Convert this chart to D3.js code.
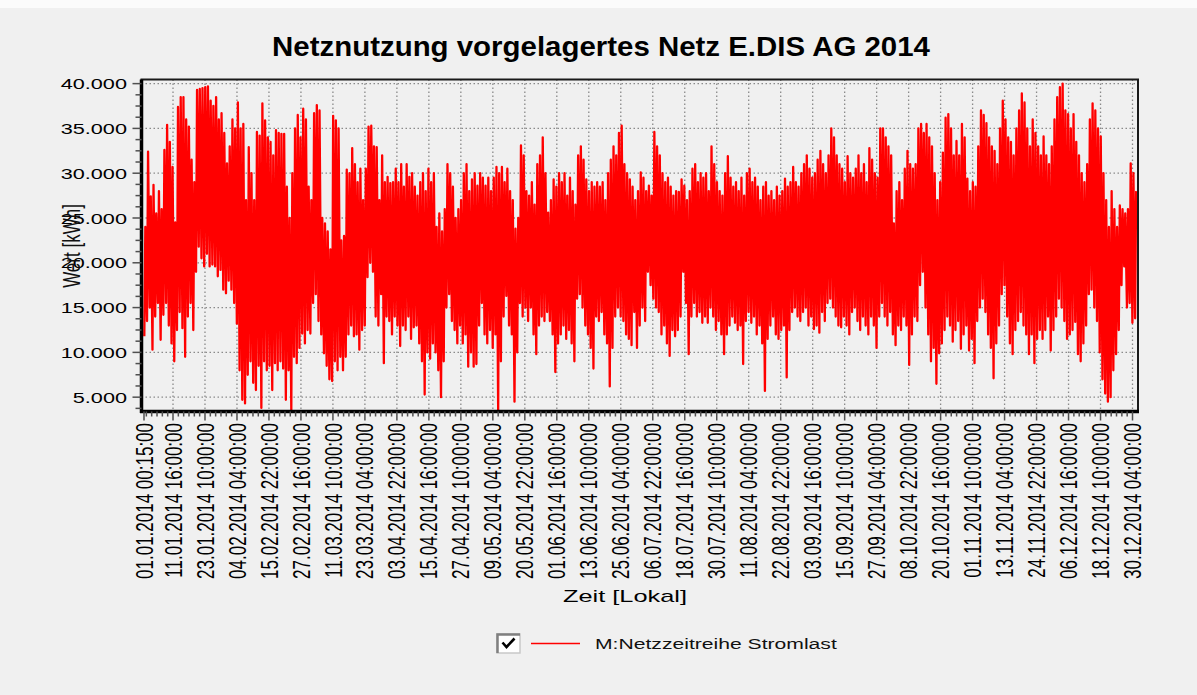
<!DOCTYPE html>
<html>
<head>
<meta charset="utf-8">
<script src="https://cdn.jsdelivr.net/npm/d3@7"></script>
<style>
  body { margin: 0; background: #f0f0f0; }
  svg { display: block; font-family: Arial, "Liberation Sans", sans-serif; }
</style>
</head>
<body>
<svg id="chart" width="1197" height="695"></svg>
<script>
'use strict';

// daily load, in 1000 kWh (one high and one low per day, 01.01.2014 .. 31.12.2014)
const dailyHighs = [
  24.0, 32.4, 27.4, 28.7, 25.5, 28.0, 26.0, 32.6, 35.4, 33.5,
  30.7, 24.5, 37.4, 38.5, 38.5, 36.0, 35.2, 31.5, 29.0, 39.3,
  39.4, 39.5, 39.6, 39.7, 38.1, 37.5, 38.5, 36.0, 36.7, 34.5,
  31.1, 33.0, 36.0, 35.0, 37.9, 35.0, 35.5, 27.0, 32.9, 30.0,
  27.0, 34.6, 34.2, 37.8, 35.9, 34.0, 33.5, 32.0, 34.8, 34.5,
  34.4, 34.4, 28.5, 25.0, 30.0, 35.0, 36.5, 34.0, 37.2, 36.0,
  28.5, 27.0, 36.7, 37.6, 37.0, 25.0, 24.4, 23.5, 21.5, 36.4,
  35.9, 35.0, 22.5, 23.0, 30.4, 30.0, 32.8, 31.0, 29.0, 30.5,
  27.0, 30.5, 35.2, 35.3, 33.0, 32.9, 27.0, 32.0, 29.0, 29.6,
  28.9, 29.0, 30.5, 29.0, 31.0, 28.5, 31.0, 29.6, 30.0, 28.5,
  27.5, 29.0, 30.0, 28.0, 30.5, 29.0, 30.0, 24.0, 25.5, 23.5,
  26.0, 31.0, 30.0, 28.5, 25.0, 26.0, 27.0, 30.0, 31.0, 28.0,
  29.3, 30.0, 28.6, 30.0, 29.5, 28.6, 29.5, 28.0, 29.5, 30.7,
  30.0, 30.7, 29.0, 30.5, 28.0, 27.0, 23.8, 25.0, 33.1, 32.0,
  28.0, 27.5, 29.0, 26.5, 31.0, 32.0, 34.0, 30.0, 25.6, 27.0,
  29.3, 28.5, 30.0, 29.0, 30.0, 27.5, 29.5, 28.0, 26.5, 32.0,
  33.0, 31.5, 29.3, 28.0, 29.0, 28.5, 29.0, 28.5, 29.0, 27.0,
  30.0, 31.5, 33.0, 32.0, 34.5, 35.3, 31.0, 30.0, 29.3, 28.5,
  27.0, 28.0, 30.1, 29.5, 28.0, 28.6, 27.5, 34.6, 33.0, 32.0,
  30.0, 29.0, 29.5, 28.5, 27.5, 28.0, 27.9, 29.3, 28.6, 27.0,
  28.0, 30.5, 31.0, 29.0, 30.0, 29.5, 30.0, 28.0, 33.0, 31.0,
  29.0, 28.0, 27.5, 30.0, 31.9, 29.5, 28.5, 29.0, 28.0, 29.5,
  27.5, 30.0, 30.5, 29.0, 29.5, 28.5, 27.0, 28.5, 29.0, 27.5,
  28.0, 27.0, 28.5, 27.5, 28.0, 29.4, 28.5, 29.0, 30.7, 29.0,
  28.5, 30.0, 31.0, 32.0, 30.5, 29.5, 30.0, 31.5, 32.5, 31.0,
  30.0, 32.0, 35.0, 34.0, 32.0, 31.0, 30.5, 29.0, 31.9, 30.0,
  29.5, 30.5, 32.0, 30.0, 31.0, 29.0, 32.8, 31.5, 30.0, 29.5,
  35.0, 35.0, 34.0, 33.0, 32.0, 24.4, 28.0, 29.0, 27.0, 30.5,
  32.5, 31.0, 30.5, 31.0, 35.0, 35.5, 34.5, 35.5, 34.0, 33.0,
  30.0, 27.0, 29.0, 32.3, 36.2, 36.6, 35.0, 32.0, 33.6, 32.0,
  35.5, 34.0, 29.4, 28.0, 29.0, 28.5, 33.0, 37.0, 36.5, 35.6,
  34.0, 33.0, 32.5, 31.0, 35.0, 38.1, 36.0, 34.0, 33.5, 32.0,
  35.0, 37.0, 38.9, 37.9, 35.0, 33.0, 36.0, 34.5, 33.0, 32.0,
  34.1, 32.0, 31.0, 33.0, 36.0, 38.5, 39.6, 40.0, 37.0, 36.6,
  35.0, 36.6, 33.5, 32.0, 30.0, 29.0, 31.0, 36.0, 37.8, 37.0,
  35.0, 34.1, 30.0, 27.0, 24.0, 28.0, 26.0, 24.0, 26.4, 26.0,
  25.5, 26.0, 31.1, 30.0, 28.0
];

const dailyLows = [
  11.8, 13.5, 15.0, 10.3, 14.0, 15.5, 11.4, 14.2, 15.5, 13.0,
  11.0, 9.0, 12.5, 14.5, 12.7, 9.5, 14.0, 15.5, 12.5, 19.0,
  21.8, 20.5, 19.6, 21.0, 19.6, 19.8, 19.6, 18.5, 19.2, 17.0,
  16.6, 18.0, 17.0, 15.5, 13.2, 8.0, 4.7, 4.3, 7.5, 9.0,
  6.6, 5.8, 8.5, 3.8, 9.0, 8.0, 8.5, 5.8, 8.8, 8.0,
  9.0, 8.2, 4.7, 8.0, 3.6, 9.5, 8.8, 10.5, 12.1, 11.0,
  12.5, 12.1, 15.5, 16.5, 13.5, 12.0, 9.9, 8.5, 7.0, 6.8,
  9.0, 8.0, 9.5, 8.0, 9.5, 12.0, 13.0, 11.8, 12.0, 10.3,
  12.5, 13.0, 18.4, 20.0, 19.0, 14.0, 13.0, 16.5, 8.8, 14.0,
  13.5, 12.0, 14.0, 13.0, 10.7, 13.0, 12.5, 14.0, 11.5, 12.8,
  13.0, 11.0, 9.0, 5.3, 10.0, 9.3, 11.0, 10.0, 8.0, 5.0,
  9.0, 15.0, 16.5, 13.5, 12.5, 11.0, 13.0, 11.0, 12.0, 8.4,
  10.0, 8.4, 8.7, 13.0, 15.5, 12.0, 11.0, 12.5, 10.5, 12.0,
  3.6, 9.0, 14.0, 16.3, 13.0, 12.0, 4.5, 10.0, 15.5, 14.0,
  15.0, 13.5, 15.0, 12.0, 9.8, 13.0, 14.0, 13.5, 14.5, 13.5,
  12.0, 7.8, 11.0, 12.0, 13.0, 11.5, 12.5, 11.0, 9.0, 16.0,
  16.5, 15.0, 13.0, 12.0, 10.5, 8.2, 14.0, 13.5, 14.5, 12.0,
  11.0, 6.2, 10.5, 14.0, 15.0, 14.0, 13.5, 12.0, 11.5, 10.8,
  14.5, 10.5, 13.0, 15.0, 13.5, 19.0, 17.5, 16.0, 15.0, 14.5,
  12.0, 13.0, 11.0, 9.6, 12.5, 11.8, 12.5, 14.0, 19.0, 15.5,
  9.8, 14.0, 15.5, 14.0, 14.5, 13.3, 14.0, 13.3, 15.0, 14.0,
  12.5, 13.5, 12.0, 9.8, 12.0, 13.0, 14.0, 13.3, 12.5, 13.0,
  8.7, 13.5, 14.5, 13.3, 14.0, 12.0, 13.0, 11.0, 5.7, 11.5,
  13.0, 14.0, 12.0, 11.5, 12.5, 13.0, 7.2, 12.5, 14.5, 15.0,
  14.0, 13.5, 14.5, 15.0, 13.0, 14.0, 12.6, 13.0, 12.2, 14.5,
  13.5, 15.5, 16.0, 15.0, 14.0, 13.0, 12.8, 14.0, 13.0, 12.0,
  14.5, 15.0, 13.5, 12.5, 14.0, 13.0, 12.0, 14.0, 13.0, 10.5,
  14.0, 15.5, 14.0, 13.0, 14.5, 12.0, 10.8, 13.0, 12.5, 14.0,
  13.0, 8.6, 12.0, 14.0, 13.5, 17.5, 19.0, 15.0, 12.0, 9.0,
  10.5, 6.5, 9.9, 11.0, 12.5, 14.0, 13.0, 11.2, 12.5, 13.5,
  10.4, 12.0, 13.0, 10.2, 11.5, 8.8, 13.5, 15.0, 16.0, 14.5,
  12.0, 10.5, 7.1, 11.0, 13.0, 16.5, 17.5, 14.0, 11.0, 9.8,
  12.5, 13.5, 14.5, 13.0, 12.0, 9.8, 12.0, 8.8, 11.5, 12.5,
  11.5, 12.5, 14.0, 10.2, 12.5, 14.0, 16.0, 15.0, 13.5, 11.5,
  12.0, 12.5, 13.4, 9.8, 9.0, 11.0, 13.0, 16.5, 17.0, 15.0,
  13.5, 10.0, 7.0, 5.4, 4.5, 5.0, 8.0, 9.8, 12.5, 17.5,
  19.6, 15.0, 15.5, 13.3, 13.8
];

const xTickLabels = [
  '01.01.2014 00:15:00', '11.01.2014 16:00:00', '23.01.2014 10:00:00', '04.02.2014 04:00:00',
  '15.02.2014 22:00:00', '27.02.2014 16:00:00', '11.03.2014 10:00:00', '23.03.2014 04:00:00',
  '03.04.2014 22:00:00', '15.04.2014 16:00:00', '27.04.2014 10:00:00', '09.05.2014 04:00:00',
  '20.05.2014 22:00:00', '01.06.2014 16:00:00', '13.06.2014 10:00:00', '25.06.2014 04:00:00',
  '06.07.2014 22:00:00', '18.07.2014 16:00:00', '30.07.2014 10:00:00', '11.08.2014 04:00:00',
  '22.08.2014 22:00:00', '03.09.2014 16:00:00', '15.09.2014 10:00:00', '27.09.2014 04:00:00',
  '08.10.2014 22:00:00', '20.10.2014 16:00:00', '01.11.2014 10:00:00', '13.11.2014 04:00:00',
  '24.11.2014 22:00:00', '06.12.2014 16:00:00', '18.12.2014 10:00:00', '30.12.2014 04:00:00'
];
const yTickValues = [5000, 10000, 15000, 20000, 25000, 30000, 35000, 40000];

const titleText = 'Netznutzung vorgelagertes Netz E.DIS AG 2014';
const xTitle = 'Zeit [Lokal]';
const yTitle = 'Wert [kWh]';
const seriesName = 'M:Netzzeitreihe Stromlast';

const plotLeft = 141.5;
const plotRight = 1138;
const plotTop = 79.5;
const plotBottom = 411.5;
const textStretch = 1.4;

const parseLabel = d3.utcParse('%d.%m.%Y %H:%M:%S');
const deFormat = d3.formatLocale({decimal: ',', thousands: '.', grouping: [3], currency: ['', ' €']}).format(',.0f');

// one low (night) and one high (midday) point per day
let points = [];
dailyHighs.forEach((high, d) => {
  points.push({t: new Date(Date.UTC(2014, 0, 1 + d, 3)), v: dailyLows[d] * 1000});
  points.push({t: new Date(Date.UTC(2014, 0, 1 + d, 12)), v: high * 1000});
});

const x = d3.scaleUtc()
  .domain([parseLabel(xTickLabels[0]), new Date(Date.UTC(2015, 0, 1, 0))])
  .range([144, 1137.5]);
const y = d3.scaleLinear()
  .domain([3400, 40460])
  .range([plotBottom, plotTop]);

const svg = d3.select('#chart');

svg.append('rect').attr('width', 1197).attr('height', 695).attr('fill', '#f0f0f0');
svg.append('rect').attr('width', 1197).attr('height', 8).attr('fill', '#fbfbfb');

// title
const title = svg.append('text')
  .attr('text-anchor', 'middle')
  .attr('font-weight', 'bold')
  .attr('font-size', 28)
  .attr('fill', '#000')
  .text(titleText);
fitWidth(title, 658, 601, 56);

// grid
const majorTimes = xTickLabels.map(parseLabel);
const gGrid = svg.append('g')
  .attr('stroke', '#8a8a8a')
  .attr('stroke-width', 1.3)
  .attr('stroke-dasharray', '1.5,2.5');
gGrid.selectAll('.hGrid').data(yTickValues).enter()
  .append('line')
  .attr('class', 'hGrid')
  .attr('x1', plotLeft).attr('x2', plotRight)
  .attr('y1', d => y(d)).attr('y2', d => y(d));
gGrid.selectAll('.vGrid').data(majorTimes.slice(1)).enter()
  .append('line')
  .attr('class', 'vGrid')
  .attr('x1', d => x(d)).attr('x2', d => x(d))
  .attr('y1', plotTop).attr('y2', plotBottom);

// series
svg.append('clipPath').attr('id', 'plotClip')
  .append('rect')
  .attr('x', plotLeft).attr('y', plotTop)
  .attr('width', plotRight - plotLeft).attr('height', plotBottom - plotTop);

const line = d3.line()
  .x(d => x(d.t))
  .y(d => y(d.v));
svg.append('path')
  .datum(points)
  .attr('clip-path', 'url(#plotClip)')
  .attr('fill', 'none')
  .attr('stroke', '#ff0000')
  .attr('stroke-width', 2.3)
  .attr('stroke-linejoin', 'round')
  .attr('d', line);

// frame
svg.append('rect')
  .attr('x', plotLeft).attr('y', plotTop)
  .attr('width', plotRight - plotLeft).attr('height', plotBottom - plotTop)
  .attr('fill', 'none')
  .attr('stroke', '#1a1a1a')
  .attr('stroke-width', 2);
svg.append('line')
  .attr('x1', plotLeft).attr('x2', plotLeft)
  .attr('y1', plotTop).attr('y2', plotBottom + 1.5)
  .attr('stroke', '#000').attr('stroke-width', 3.5);
svg.append('line')
  .attr('x1', plotLeft - 1.5).attr('x2', plotRight + 1)
  .attr('y1', plotBottom).attr('y2', plotBottom)
  .attr('stroke', '#000').attr('stroke-width', 3.5);

// y axis ticks + labels
const gTicks = svg.append('g').attr('stroke', '#505050').attr('stroke-width', 1.5);
let yMinor = [];
for (let v = 3750; v <= 40000; v += 1250) {
  if (v % 5000 !== 0) yMinor.push(v);
}
gTicks.selectAll('.yMinor').data(yMinor).enter()
  .append('line')
  .attr('x1', plotLeft - 6).attr('x2', plotLeft)
  .attr('y1', d => y(d)).attr('y2', d => y(d));
gTicks.selectAll('.yMajor').data(yTickValues).enter()
  .append('line')
  .attr('x1', plotLeft - 9).attr('x2', plotLeft)
  .attr('y1', d => y(d)).attr('y2', d => y(d));

svg.selectAll('.yLabel').data(yTickValues).enter()
  .append('text')
  .attr('class', 'yLabel')
  .attr('text-anchor', 'end')
  .attr('font-size', 15.5)
  .attr('dy', '0.36em')
  .attr('fill', '#000')
  .attr('transform', d => `translate(127, ${y(d)}) scale(${textStretch}, 1)`)
  .text(d => deFormat(d));

// x axis ticks + labels
const stepMs = 47 * 3600 * 1000;
const anchorMs = majorTimes[1].getTime();
let xMinor = [];
for (let k = -6; k <= 6 * 31; k++) {
  if (k % 6 === 0) continue;
  const t = new Date(anchorMs + k * stepMs);
  if (t >= x.domain()[0] && t <= x.domain()[1]) xMinor.push(t);
}
gTicks.selectAll('.xMinor').data(xMinor).enter()
  .append('line')
  .attr('x1', d => x(d)).attr('x2', d => x(d))
  .attr('y1', plotBottom).attr('y2', plotBottom + 5);
gTicks.selectAll('.xMajor').data(majorTimes).enter()
  .append('line')
  .attr('x1', d => x(d)).attr('x2', d => x(d))
  .attr('y1', plotBottom).attr('y2', plotBottom + 9);

svg.selectAll('.xLabel').data(xTickLabels).enter()
  .append('text')
  .attr('class', 'xLabel')
  .attr('text-anchor', 'end')
  .attr('font-size', 17)
  .attr('dy', '0.36em')
  .attr('fill', '#000')
  .attr('transform', d => `translate(${x(parseLabel(d))}, 423) scale(${textStretch}, 1) rotate(-90)`)
  .text(d => d);

// axis titles
const xt = svg.append('text')
  .attr('text-anchor', 'middle')
  .attr('font-size', 17)
  .attr('fill', '#000')
  .text(xTitle);
fitWidth(xt, 124, 625, 602);

svg.append('text')
  .attr('text-anchor', 'middle')
  .attr('font-size', 17)
  .attr('dy', '0.36em')
  .attr('fill', '#111')
  .attr('transform', `translate(71, 246) scale(${textStretch}, 1) rotate(-90)`)
  .text(yTitle);

// legend
const gLegend = svg.append('g');
gLegend.append('rect')
  .attr('x', 497).attr('y', 634).attr('width', 23).attr('height', 19)
  .attr('fill', '#fff').attr('stroke', '#c8c8c8').attr('stroke-width', 1.5);
gLegend.append('path')
  .attr('d', 'M497.5,653 V634.5 H520')
  .attr('fill', 'none').attr('stroke', '#808080').attr('stroke-width', 2.5);
gLegend.append('path')
  .attr('d', 'M502.5,642.5 L506.5,647 L514.5,638.5')
  .attr('fill', 'none').attr('stroke', '#000').attr('stroke-width', 2.6);
gLegend.append('line')
  .attr('x1', 531).attr('x2', 580).attr('y1', 643.5).attr('y2', 643.5)
  .attr('stroke', '#ff0000').attr('stroke-width', 1.5);
const lt = gLegend.append('text')
  .attr('font-size', 15)
  .attr('fill', '#111')
  .text(seriesName);
fitWidth(lt, 242, 595, 649);

// squeeze or stretch a text horizontally to the width it has in the original
function fitWidth(sel, target, px, baseline) {
  const w = sel.node().getComputedTextLength();
  const sx = w > 0 ? target / w : 1;
  sel.attr('transform', `translate(${px}, ${baseline}) scale(${sx}, 1)`);
}
</script>
</body>
</html>
